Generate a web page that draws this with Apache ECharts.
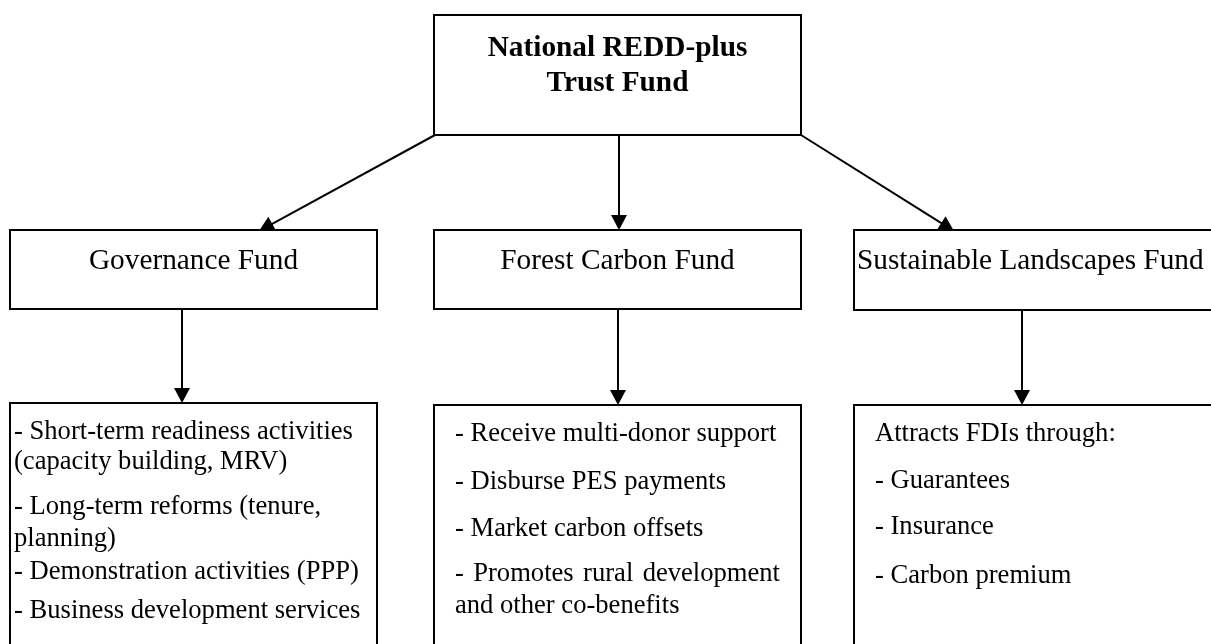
<!DOCTYPE html>
<html><head><meta charset="utf-8">
<script src="https://cdn.jsdelivr.net/npm/echarts@6/dist/echarts.min.js"></script>
<style>html,body{margin:0;padding:0;background:#fff}#c{width:1211px;height:644px}</style>
</head><body><div id="c"></div>
<script>
// ---- diagram content (diagram units = pixels of the reference) ----
const boxIds = ['trust', 'gov', 'forest', 'sust', 'govList', 'forestList', 'sustList'];
const boxRects = [[434, 15, 801, 135], [10, 230, 377, 309], [434, 230, 801, 309], [854, 230, 1240, 310],
                  [10, 403, 377, 700], [434, 405, 801, 700], [854, 405, 1240, 700]];
const arrowFrom = [[435, 135], [619, 135], [801, 135], [182, 309], [618, 309], [1022, 310]];
const arrowTo   = [[259, 231], [619, 230], [954, 231], [182, 403], [618, 405], [1022, 405]];

const titleText = ['National REDD-plus', 'Trust Fund', 'Governance Fund', 'Forest Carbon Fund', 'Sustainable Landscapes Fund'];
const titleAnchor = [[617.5, 55], [617.5, 90], [193.5, 268], [617.5, 268], [857, 268]];
const titleAlign = ['center', 'center', 'center', 'center', 'left'];
const titleBold = [true, true, false, false, false];

const govItems = ['- Short-term readiness activities', '(capacity building, MRV)', '- Long-term reforms (tenure,', 'planning)', '- Demonstration activities (PPP)', '- Business development services'];
const govBaselines = [438, 468, 513, 545, 578, 617];
const forestItems = ['- Receive multi-donor support', '- Disburse PES payments', '- Market carbon offsets', '- Promotes rural development', 'and other co-benefits'];
const forestBaselines = [440, 488, 535, 580, 612];
const forestJustify = [false, false, false, true, false];
const sustItems = ['Attracts FDIs through:', '- Guarantees', '- Insurance', '- Carbon premium'];
const sustBaselines = [440, 487, 533, 582];

// ---- styling ----
const FONT = '"Liberation Serif", "Times New Roman", serif';
const TITLE_SIZE = 29.3, BODY_SIZE = 26.6;
const MID = 0.23; // offset of text middle above baseline (em)
const LW = 2;

// Build body text table
const bodyLines = [];
function addLines(items, baselines, x, justifyRight, justifyFlags) {
  items.forEach((t, i) => bodyLines.push({ text: t, x: x, y: baselines[i], justify: justifyFlags ? justifyFlags[i] : false, right: justifyRight }));
}
addLines(govItems, govBaselines, 14, null, null);
addLines(forestItems, forestBaselines, 455, 780, forestJustify);
addLines(sustItems, sustBaselines, 875, null, null);

const measureCtx = document.createElement('canvas').getContext('2d');
function measure(t, size) { measureCtx.font = size + 'px ' + FONT; return measureCtx.measureText(t).width; }

const chart = echarts.init(document.getElementById('c'), null, { renderer: 'canvas' });
chart.setOption({
  backgroundColor: '#ffffff',
  animation: false,
  grid: { left: 0, right: 0, top: 0, bottom: 0 },
  xAxis: { type: 'value', min: 0, max: 1211, show: false },
  yAxis: { type: 'value', min: 0, max: 644, inverse: true, show: false },
  series: [
    {
      type: 'custom', name: 'boxes', z: 1,
      data: boxRects.map((r, i) => ({ name: boxIds[i], value: r })),
      renderItem: (params, api) => {
        const p0 = api.coord([api.value(0), api.value(1)]);
        const p1 = api.coord([api.value(2), api.value(3)]);
        return { type: 'rect', shape: { x: p0[0], y: p0[1], width: p1[0] - p0[0], height: p1[1] - p0[1] },
                 style: { fill: '#fff', stroke: '#000', lineWidth: LW } };
      }
    },
    {
      type: 'custom', name: 'arrows', z: 2,
      data: arrowFrom.map((f, i) => [f[0], f[1], arrowTo[i][0], arrowTo[i][1]]),
      renderItem: (params, api) => {
        const a = api.coord([api.value(0), api.value(1)]);
        const b = api.coord([api.value(2), api.value(3)]);
        const dx = b[0] - a[0], dy = b[1] - a[1];
        const len = Math.hypot(dx, dy), ux = dx / len, uy = dy / len;
        const hl = 15, hw = 8;
        const bx = b[0] - ux * hl, by = b[1] - uy * hl;
        return { type: 'group', children: [
          { type: 'line', shape: { x1: a[0], y1: a[1], x2: bx + ux, y2: by + uy }, style: { stroke: '#000', lineWidth: LW } },
          { type: 'polygon', shape: { points: [[b[0], b[1]], [bx - uy * hw, by + ux * hw], [bx + uy * hw, by - ux * hw]] },
            style: { fill: '#000' } }
        ] };
      }
    },
    {
      type: 'custom', name: 'titles', z: 3,
      data: titleAnchor.map(a => [a[0], a[1]]),
      renderItem: (params, api) => {
        const i = params.dataIndex;
        const p = api.coord([api.value(0), api.value(1)]);
        return { type: 'text', x: p[0], y: p[1] - MID * TITLE_SIZE,
                 style: { text: titleText[i], fill: '#000', fontFamily: FONT, fontSize: TITLE_SIZE,
                          fontWeight: titleBold[i] ? 'bold' : 'normal', align: titleAlign[i], verticalAlign: 'middle' } };
      }
    },
    {
      type: 'custom', name: 'items', z: 3,
      data: bodyLines.map(l => [l.x, l.y]),
      renderItem: (params, api) => {
        const l = bodyLines[params.dataIndex];
        const p = api.coord([api.value(0), api.value(1)]);
        const y = p[1] - MID * BODY_SIZE;
        const st = (t) => ({ text: t, fill: '#000', fontFamily: FONT, fontSize: BODY_SIZE, align: 'left', verticalAlign: 'middle' });
        if (!l.justify) return { type: 'text', x: p[0], y: y, style: st(l.text) };
        const words = l.text.split(' ');
        const right = api.coord([l.right, 0])[0];
        const widths = words.map(w => measure(w, BODY_SIZE));
        const total = widths.reduce((s, w) => s + w, 0);
        const gap = (right - p[0] - total) / (words.length - 1);
        let x = p[0];
        const children = words.map((w, k) => { const el = { type: 'text', x: x, y: y, style: st(w) }; x += widths[k] + gap; return el; });
        return { type: 'group', children: children };
      }
    }
  ]
});
</script></body></html>
